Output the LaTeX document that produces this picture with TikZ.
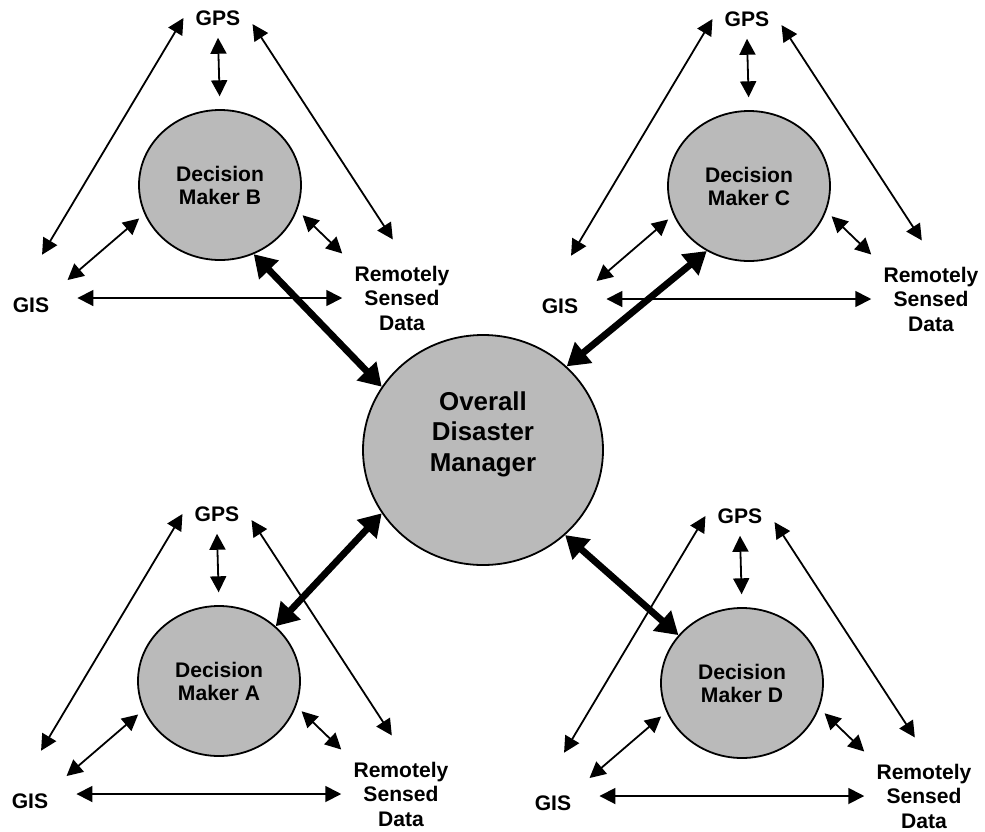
\documentclass[tikz,border=0pt]{standalone}
\usepackage{fontspec}
\setmainfont{Liberation Sans}
\usetikzlibrary{arrows.meta,shapes.geometric}

\begin{document}
\begin{tikzpicture}[x=0.25mm, y=-0.25mm,
                      dm/.style = {ellipse, draw, line width=0.45mm, fill=black!27,
                        minimum width=40.5mm, minimum height=37.5mm, inner sep=0pt,
                        align=center, font=\bfseries\fontsize{15}{16.3}\selectfont},
                      odm/.style = {dm, minimum width=60mm, minimum height=57.5mm},
                      bigtext/.style = {align=center, font=\bfseries\fontsize{18.4}{21.6}\selectfont},
                      src/.style = {inner sep=3mm, align=center,
                        font=\bfseries\fontsize{15}{17.4}\selectfont},
                      link/.style = {{Triangle[length=4mm,width=4mm]}-{Triangle[length=4mm,width=4mm]},
                        line width=0.45mm},
                      mainlink/.style = {{Triangle[length=5.5mm,width=6.5mm]}-{Triangle[length=5.5mm,width=6.5mm]},
                        line width=1.7mm}]
  \useasboundingbox (0,0) rectangle (985,831);
  \node[odm] (odm) at (483,450) {};
  \node[bigtext] (odmtext) at ([yshift=4mm]odm.center) {Overall\\Disaster\\Manager};
  \foreach \n/\x/\y/\a/\b in {B/220/185/-64/148, C/749/186/237/45,
                              A/219/681/44/212, D/742/683/143/-46}{
    \node[dm] (dm\n) at (\x,\y) {Decision\\Maker \n};
    \node[src] (gps\n) at ([shift={(-2,-167)}]dm\n.center) {GPS};
    \node[src] (gis\n) at ([shift={(-189,120)}]dm\n.center) {GIS};
    \node[src] (rsd\n) at ([shift={(182,113)}]dm\n.center) {Remotely\\Sensed\\Data};
    \draw[link, shorten >=8.9mm] (gps\n.west) -- (gis\n.110);
    \draw[link, shorten >=3.2mm] (gps\n.south) -- (dm\n.north);
    \draw[link, shorten >=4.2mm] (gps\n.-10) -- (rsd\n.north);
    \draw[link, shorten <=2mm, shorten >=1.7mm] (gis\n.north east) -- (dm\n.201);
    \draw[link, shorten <=1.85mm] (dm\n.-18) -- (rsd\n.north west);
    \draw[link, shorten >=4mm] (rsd\n.west) -- (rsd\n.west -| gis\n.east);
    \draw[mainlink] (dm\n.\a) -- (odm.\b);
  }
\end{tikzpicture}
\end{document}
